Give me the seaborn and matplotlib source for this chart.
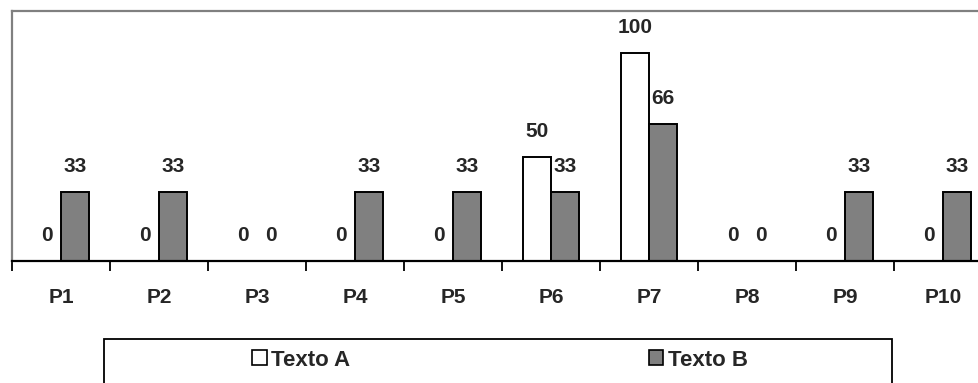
import matplotlib
matplotlib.use("Agg")
import matplotlib.pyplot as plt
from matplotlib.patches import Rectangle, Patch
import seaborn as sns
import pandas as pd

sns.set_style("white")
plt.rcParams["font.family"] = ["Liberation Sans", "DejaVu Sans"]
plt.rcParams["font.weight"] = "bold"

# Values per question for each text
preguntas = ["P1", "P2", "P3", "P4", "P5", "P6", "P7", "P8", "P9", "P10"]
texto_a = [0, 0, 0, 0, 0, 50, 100, 0, 0, 0]
texto_b = [33, 33, 0, 33, 33, 33, 66, 0, 33, 33]
series = ["Texto A", "Texto B"]
colores = {"Texto A": "#ffffff", "Texto B": "#808080"}

df = pd.DataFrame({
    "pregunta": preguntas * 2,
    "valor": texto_a + texto_b,
    "texto": [series[0]] * len(preguntas) + [series[1]] * len(preguntas),
})

W, H = 979, 383
fig = plt.figure(figsize=(W / 100, H / 100), dpi=100)
# plot area: left edge x=12, baseline y=261, top y=11, right edge beyond the canvas
ax = fig.add_axes([12 / W, (H - 261) / H, 980 / W, 250 / H])

sns.barplot(data=df, x="pregunta", y="valor", hue="texto", palette=colores,
            width=0.57, edgecolor="black", linewidth=1.4, saturation=1,
            ax=ax, legend=False)

ax.set_xlim(-0.5, len(preguntas) - 0.5)
ax.set_ylim(0, 120)
ax.set_xlabel("")
ax.set_ylabel("")
ax.set_yticks([])

# category boundaries carry the tick marks, centres carry the labels
ax.set_xticks([i - 0.5 for i in range(len(preguntas) + 1)])
ax.set_xticklabels([])
ax.set_xticks(range(len(preguntas)), minor=True)
ax.set_xticklabels(preguntas, minor=True, fontsize=15, fontweight="bold")
ax.tick_params(axis="x", which="major", length=7, width=1.3, color="black",
               direction="out", bottom=True)
ax.tick_params(axis="x", which="minor", length=0, pad=19.5)

for side in ["left", "top", "right"]:
    ax.spines[side].set_color("#808080")
    ax.spines[side].set_linewidth(1.6)
ax.spines["bottom"].set_color("black")
ax.spines["bottom"].set_linewidth(1.6)

for cont in ax.containers:
    ax.bar_label(cont, fmt="%d", padding=11.5, fontsize=15, fontweight="bold")

# legend frame and entries
fig.patches.append(Rectangle((104 / W, -0.05), (892 - 104) / W, (H - 339) / H + 0.05,
                             transform=fig.transFigure, facecolor="white",
                             edgecolor="black", linewidth=1.3, zorder=1))
handles = [Patch(facecolor=colores[s], edgecolor="black", linewidth=1.2) for s in series]
fig.legend(handles, series, loc="center", bbox_to_anchor=(500 / W, (H - 360) / H),
           ncol=2, frameon=False, handlelength=0.65, handleheight=0.65,
           handletextpad=0.2, columnspacing=13.45, borderpad=0,
           prop={"weight": "bold", "size": 16})

fig.savefig("out.png", dpi=100)
